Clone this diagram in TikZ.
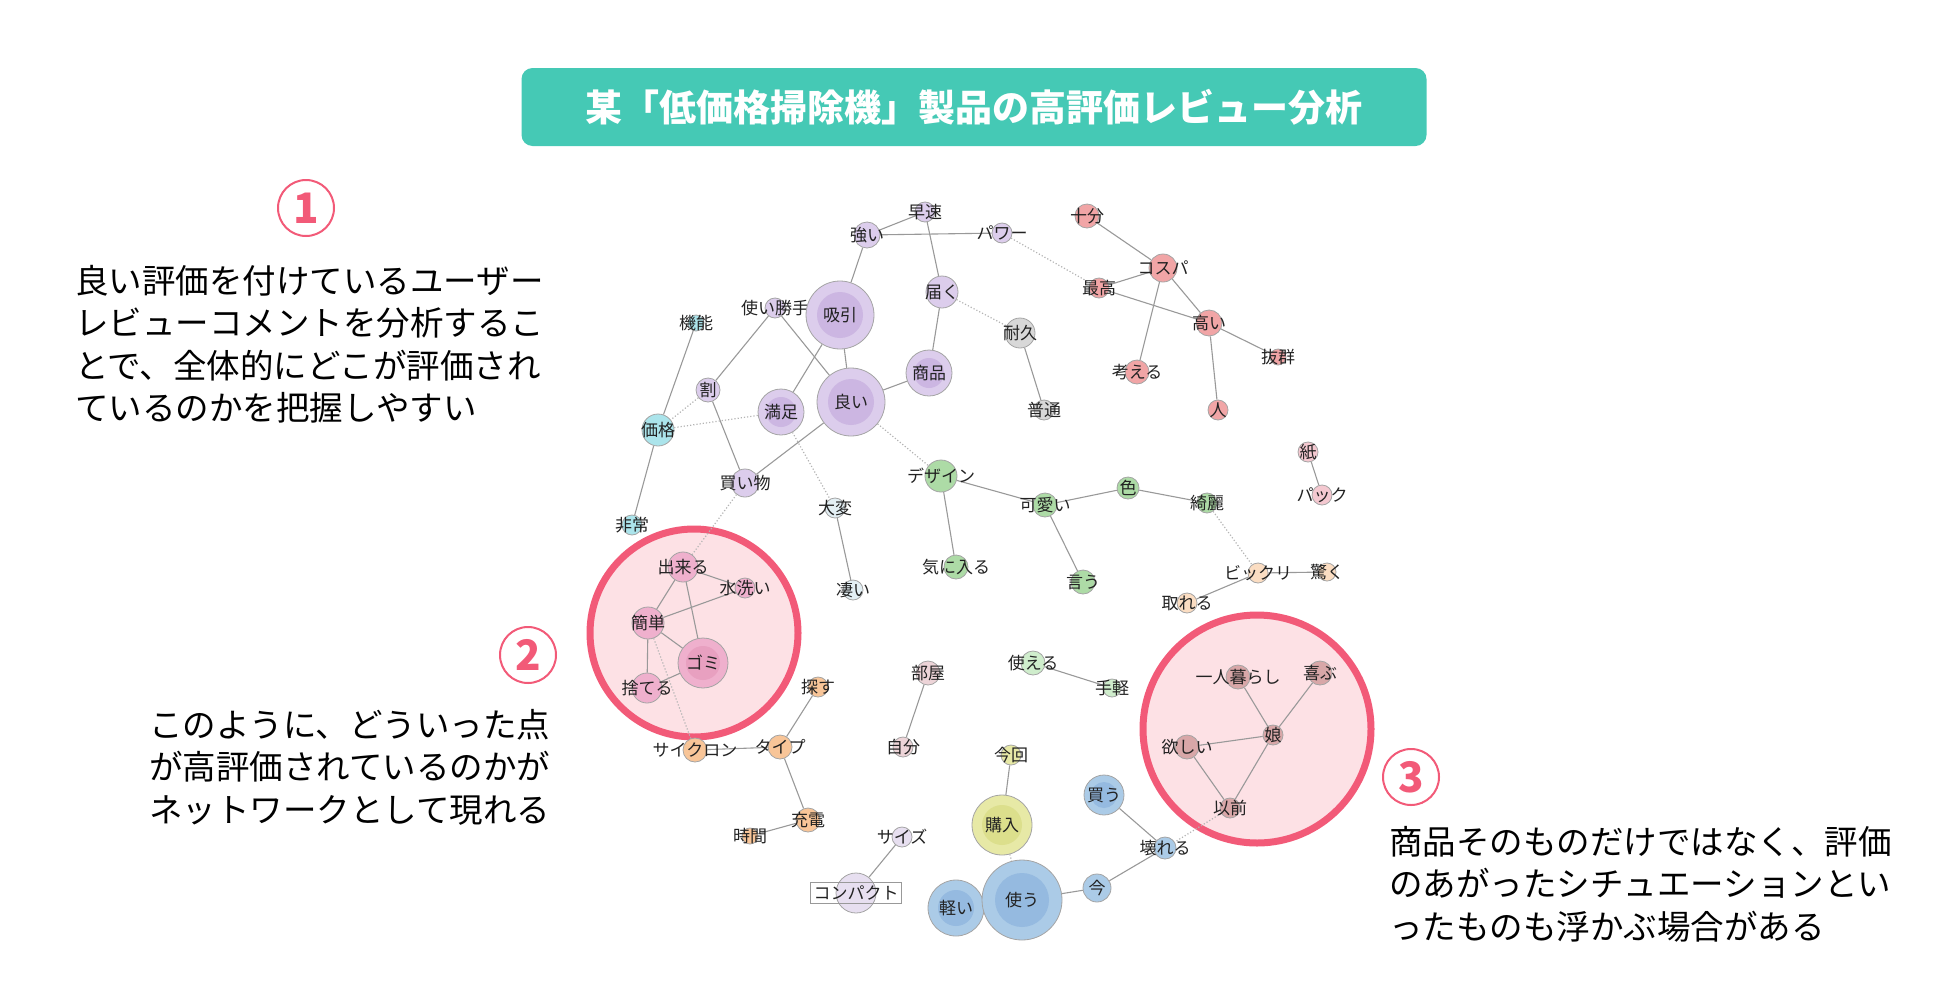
\documentclass[tikz,border=0pt]{standalone}
\usepackage{fontspec}
\setmainfont{Noto Sans CJK JP}
\usepackage{xcolor}

\definecolor{ctx}{HTML}{222222}
\definecolor{cbd}{HTML}{A4A4A4}
\definecolor{cln}{HTML}{999999}
\definecolor{cdot}{HTML}{B4B4B4}
\definecolor{cpu}{HTML}{DCCDEC}
\definecolor{cpuc}{HTML}{CCB6E2}
\definecolor{ccy}{HTML}{ABE4EB}
\definecolor{cgy}{HTML}{D8D8D8}
\definecolor{crd}{HTML}{F1A5A6}
\definecolor{clp}{HTML}{F4C8D0}
\definecolor{cgr}{HTML}{ADDBA6}
\definecolor{cpb}{HTML}{E3EFF4}
\definecolor{cpe}{HTML}{FBDDC2}
\definecolor{cpk}{HTML}{EFB0CD}
\definecolor{cpkc}{HTML}{E8A0C0}
\definecolor{cor}{HTML}{F8C598}
\definecolor{cmv}{HTML}{EDD4D8}
\definecolor{clg}{HTML}{CFEDCC}
\definecolor{cye}{HTML}{E7E9A6}
\definecolor{cyec}{HTML}{DCDF8C}
\definecolor{clv}{HTML}{E7DFF0}
\definecolor{cbl}{HTML}{ABCBE7}
\definecolor{cblc}{HTML}{95BAE0}
\definecolor{crs}{HTML}{D8A7A8}
\definecolor{chl}{HTML}{F25A78}
\definecolor{chlf}{HTML}{FDE1E5}
\definecolor{ctl}{HTML}{45C9B5}

\pgfdeclarelayer{hl}
\pgfdeclarelayer{edge}
\pgfsetlayers{hl,edge,main}

\begin{document}
\begin{tikzpicture}[x=1pt,y=-1pt,
  wd/.style={circle,draw=cbd,line width=0.8pt,fill=#1,inner sep=0pt},
  every label/.style={font=\fontsize{17}{17}\selectfont,text=ctx,inner sep=0pt},
  boxlbl/.style={draw=cln,line width=0.8pt,inner sep=3pt},
  edge/.style={draw=cln,line width=1.1pt},
  weak/.style={draw=cdot,line width=1.2pt,dotted},
  hlring/.style={circle,draw=chl,fill=chlf,line width=7pt,inner sep=0pt},
  numc/.style={circle,draw=chl,line width=2pt,minimum size=56pt,inner sep=0pt,text=chl,font=\bfseries\fontsize{42}{42}\selectfont},
  note/.style={align=left,text=black,inner sep=0pt,font=\fontsize{33.5}{42.5}\selectfont}]
\useasboundingbox (0,0) rectangle (1950,1004);

% title
\node[fill=ctl,rounded corners=11pt,minimum width=905pt,minimum height=78pt,text=white,
  font=\bfseries\fontsize{37}{40}\selectfont] (title) at (974,107) {某「低価格掃除機」製品の高評価レビュー分析};

% highlighted groups
\begin{pgfonlayer}{hl}
  \node[hlring,minimum size=208pt] (grpA) at (694,633) {};
  \node[hlring,minimum size=228pt] (grpB) at (1257,729) {};
\end{pgfonlayer}

% word nodes
\foreach \n/\x/\y/\r/\c/\t in {
  hayai/925/212/10/cpu/早速, tsuyoi/867/235/13/cpu/強い, power/1002/233/10/cpu/パワー,
  tsukai/775/308/10/cpu/使い勝手, todoku/942/292/16/cpu/届く, wari/708/390/12/cpu/割,
  kaimono/745/483/14/cpu/買い物, kino/696/323/8/ccy/機能, kakaku/658/430/16/ccy/価格,
  hijo/632/525/10/ccy/非常, taikyu/1020/333/15/cgy/耐久, futsu/1044/410/10/cgy/普通,
  jubun/1087/216/12/crd/十分, cospa/1163/268/14/crd/コスパ, saiko/1099/288/10/crd/最高,
  takai/1209/323/13/crd/高い, batsugun/1278/357/8/crd/抜群, kangaeru/1137/372/12/crd/考える,
  hito/1218/410/10/crd/人, kami/1308/452/10/clp/紙, pack/1322/495/10/clp/パック,
  design/941/476/16/cgr/デザイン, kawaii/1045/505/12/cgr/可愛い, iro/1128/488/11/cgr/色,
  kirei/1207/503/10/cgr/綺麗, kiniiru/956/567/12/cgr/気に入る, iu/1083/582/12/cgr/言う,
  taihen/835/508/10/cpb/大変, sugoi/853/590/10/cpb/凄い,
  bikkuri/1258/573/10/cpe/ビックリ, odoroku/1327/572/9/cpe/驚く, toreru/1187/603/10/cpe/取れる,
  dekiru/683/567/15/cpk/出来る, mizuarai/745/588/10/cpk/水洗い, kantan/648/623/16/cpk/簡単,
  suteru/647/688/15/cpk/捨てる,
  sagasu/818/687/10/cor/探す, cyclone/695/750/12/cor/サイクロン, type/780/747/12/cor/タイプ,
  juden/808/820/12/cor/充電, jikan/750/836/8/cor/時間,
  heya/928/673/12/cmv/部屋, jibun/903/747/10/cmv/自分,
  tsukaeru/1033/663/12/clg/使える, tegaru/1112/688/9/clg/手軽,
  konkai/1011/755/10/cye/今回, size/902/837/10/clv/サイズ,
  ima/1097/888/14/cbl/今, kowareru/1165/848/11/cbl/壊れる,
  hitori/1238/677/12/crs/一人暮らし, yorokobu/1320/673/12/crs/喜ぶ, musume/1273/735/10/crs/娘,
  hoshii/1187/747/12/crs/欲しい, izen/1230/808/10/crs/以前}
  \node[wd=\c,minimum size={2*\r pt},label=center:\t] (\n) at (\x,\y) {};

% frequent words, with a darker core
\foreach \n/\x/\y/\r/\k/\c/\d/\t in {
  kyuin/840/315/34/23/cpu/cpuc/吸引, yoi/851/402/34/23/cpu/cpuc/良い,
  shohin/929/373/23/15/cpu/cpuc/商品, manzoku/781/412/23/15/cpu/cpuc/満足,
  gomi/703/663/25/17/cpk/cpkc/ゴミ, konyu/1002/825/30/20/cye/cyec/購入,
  karui/956/908/28/18/cbl/cblc/軽い, tsukau/1022/900/40/27/cbl/cblc/使う,
  kau/1104/795/20/13/cbl/cblc/買う}
  \node[wd=\c,minimum size={2*\r pt},label=center:\t,
    path picture={\fill[\d] (path picture bounding box.center) circle (\k pt);}] (\n) at (\x,\y) {};

\node[wd=clv,minimum size=40pt,label={[boxlbl]center:コンパクト}] (compact) at (856,893) {};

% co-occurrence links
\begin{pgfonlayer}{edge}
  \foreach \a/\b in {tsuyoi/hayai, tsuyoi/power, hayai/todoku, tsuyoi/kyuin, kyuin/yoi,
    kyuin/manzoku, tsukai/yoi, tsukai/wari, kino/kakaku, kakaku/hijo, todoku/shohin,
    shohin/yoi, yoi/kaimono, wari/kaimono, taikyu/futsu, jubun/cospa, cospa/saiko,
    cospa/takai, cospa/kangaeru, saiko/takai, takai/batsugun, takai/hito, kami/pack,
    design/kawaii, design/kiniiru, kawaii/iro, iro/kirei, kawaii/iu, taihen/sugoi,
    bikkuri/odoroku, bikkuri/toreru, dekiru/mizuarai, dekiru/kantan, dekiru/gomi,
    kantan/mizuarai, kantan/gomi, kantan/suteru, suteru/gomi, sagasu/type, cyclone/type,
    type/juden, juden/jikan, heya/jibun, tsukaeru/tegaru, konkai/konyu, size/compact,
    karui/tsukau, tsukau/ima, ima/kowareru, kau/kowareru, hitori/musume, yorokobu/musume,
    musume/hoshii, musume/izen, hoshii/izen}
    \draw[edge] (\a) -- (\b);
  \foreach \a/\b in {power/saiko, todoku/taikyu, wari/kakaku, kakaku/manzoku, yoi/design,
    manzoku/taihen, kaimono/dekiru, kantan/cyclone, kirei/bikkuri, izen/kowareru, konyu/tsukau}
    \draw[weak] (\a) -- (\b);
\end{pgfonlayer}

% notes
\node[numc] (numA) at (306,208) {1};
\node[note,anchor=west] (noteA) at (75,344) {良い評価を付けているユーザー\\レビューコメントを分析するこ\\とで、全体的にどこが評価され\\ているのかを把握しやすい};
\node[numc] (numB) at (528,655) {2};
\node[note,anchor=west] (noteB) at (149,767) {このように、どういった点\\が高評価されているのかが\\ネットワークとして現れる};
\node[numc] (numC) at (1411,777) {3};
\node[note,anchor=west] (noteC) at (1389,884) {商品そのものだけではなく、評価\\のあがったシチュエーションとい\\ったものも浮かぶ場合がある};
\end{tikzpicture}
\end{document}
